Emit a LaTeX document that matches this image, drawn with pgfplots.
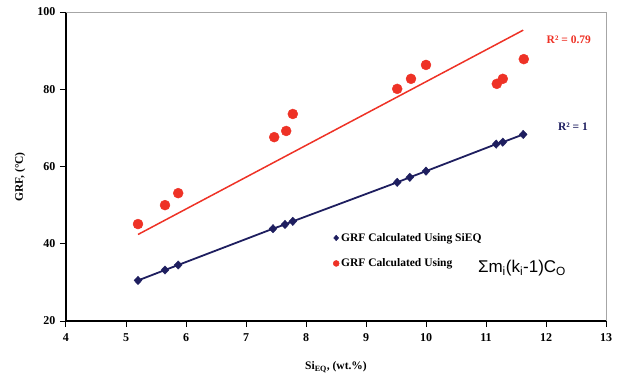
\documentclass[border=0pt]{standalone}
\usepackage{fontspec}
\setmainfont{Liberation Serif}
\newfontfamily\arial{Liberation Sans}
\usepackage{pgfplots}
\pgfplotsset{compat=1.18}
\definecolor{navyc}{RGB}{30,30,95}
\definecolor{redc}{RGB}{238,50,38}
\begin{document}
\begin{tikzpicture}
\begin{axis}[
  scale only axis,
  width=540pt, height=309pt,
  xmin=4, xmax=13, ymin=20, ymax=100,
  xtick={4,5,...,13}, ytick={20,40,...,100},
  axis x line*=bottom, axis y line*=left,
  axis line style={line width=1.2pt, black},
  tick style={line width=1pt, black},
  tick align=outside, major tick length=6pt,
  /pgf/number format/assume math mode=true,
  tick label style={font=\bfseries\fontsize{12}{14}\selectfont},
  x tick label style={yshift=-3pt},
  y tick label style={xshift=-1pt},
  xlabel={\bfseries Si\textsubscript{EQ}, (wt.\%)},
  xlabel style={font=\fontsize{11.5}{13}\selectfont, at={(axis description cs:0.5,0)}, anchor=center, yshift=-46pt},
  ylabel={\bfseries GRF, (°C)},
  ylabel style={font=\fontsize{11.5}{13}\selectfont, at={(axis description cs:0,0.466)}, anchor=center, yshift=46pt},
  clip=false,
  legend style={at={(axis cs:8.45,43.3)}, anchor=north west, draw=none, fill=none,
    font=\bfseries\fontsize{11.5}{13}\selectfont, row sep=12pt, inner sep=0pt,
    /tikz/every even column/.append style={column sep=2pt}},
  legend cell align=left,
]
\draw[gray!70, line width=1pt] (rel axis cs:0,1) -- (rel axis cs:1,1) -- (rel axis cs:1,0);
% trend lines
\addplot[forget plot, navyc, line width=1.8pt] coordinates {
(5.2,30.5)(5.65,33.2)(5.87,34.5)(7.45,43.9)(7.65,45.0)(7.78,45.8)(9.52,55.9)(9.73,57.2)(10.0,58.8)(11.17,65.8)(11.28,66.3)(11.62,68.3)};
\addplot[forget plot, redc, line width=1.5pt] coordinates {(5.2,42.4)(11.62,95.3)};
% data points
\addplot[only marks, mark=diamond*, mark size=4.2pt, mark options={xscale=1.25}, navyc,
  legend image code/.code={\draw[mark size=2.8pt, mark options={xscale=1.2}] plot coordinates {(0.1cm,0cm)};}] coordinates {
(5.2,30.5)(5.65,33.2)(5.87,34.5)(7.45,43.9)(7.65,45.0)(7.78,45.8)(9.52,55.9)(9.73,57.2)(10.0,58.8)(11.17,65.8)(11.28,66.3)(11.62,68.3)};
\addlegendentry{GRF Calculated Using SiEQ}
\addplot[only marks, mark=*, mark size=5pt, redc, mark options={draw=redc, fill=redc},
  legend image code/.code={\draw[mark size=3pt] plot coordinates {(0.1cm,0cm)};}] coordinates {
(5.2,45.1)(5.65,50.0)(5.87,53.1)(7.47,67.6)(7.67,69.2)(7.78,73.6)(9.52,80.1)(9.75,82.7)(10.0,86.3)(11.18,81.4)(11.28,82.7)(11.63,87.8)};
\addlegendentry{GRF Calculated Using}
\node[font=\arial\fontsize{17}{20}\selectfont] at (axis cs:11.6,33.6) {Σm\textsubscript{i}(k\textsubscript{i}-1)C\textsubscript{O}};
\node[font=\bfseries\fontsize{11.5}{13}\selectfont, text=redc] at (axis cs:12.38,92.7) {R² = 0.79};
\node[font=\bfseries\fontsize{11.5}{13}\selectfont, text=navyc] at (axis cs:12.45,70.2) {R² = 1};
\path[use as bounding box] (rel axis cs:0,0) ++(-66pt,-55pt) rectangle ++(620pt,376pt);
\end{axis}
\end{tikzpicture}
\end{document}
